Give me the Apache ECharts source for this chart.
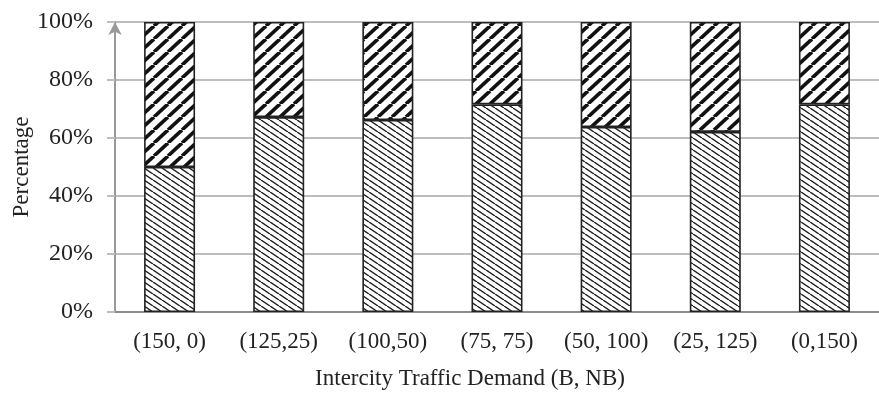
<!DOCTYPE html>
<html>
<head>
<meta charset="utf-8">
<script src="https://cdn.jsdelivr.net/npm/echarts@6/dist/echarts.min.js"></script>
<style>
  html, body { margin: 0; padding: 0; background: #fff; }
  #chart { width: 879px; height: 402px; }
</style>
</head>
<body>
<div id="chart"></div>
<script>
// Intercity traffic demand split (B, NB) and the share of each part, in percent
const categories = ['(150, 0)', '(125,25)', '(100,50)', '(75, 75)', '(50, 100)', '(25, 125)', '(0,150)'];
const lowerShare = [50, 67.2, 66.2, 71.6, 63.8, 62.1, 71.6];
const upperShare = [50, 32.8, 33.8, 28.4, 36.2, 37.9, 28.4];
const yTicks = [0, 20, 40, 60, 80, 100];

// Thick "/" stripes for the upper segment
function stripePattern() {
  const c = document.createElement('canvas');
  const w = 14, h = 13;
  c.width = w; c.height = h;
  const g = c.getContext('2d');
  g.fillStyle = '#fff';
  g.fillRect(0, 0, w, h);
  g.strokeStyle = '#111';
  g.lineWidth = 3.6;
  for (let k = -1; k <= 1; k++) {
    g.beginPath();
    g.moveTo(k * w, h);
    g.lineTo(k * w + w, 0);
    g.stroke();
  }
  return c;
}

// Fine dotted "\" hatching for the lower segment
function hatchPattern() {
  const c = document.createElement('canvas');
  const w = 9, h = 6;
  c.width = w; c.height = h;
  const g = c.getContext('2d');
  g.fillStyle = '#fff';
  g.fillRect(0, 0, w, h);
  g.strokeStyle = '#1a1a1a';
  g.lineWidth = 1.4;
  for (let k = -1; k <= 1; k++) {
    g.beginPath();
    g.moveTo(k * w, 0);
    g.lineTo(k * w + w, h);
    g.stroke();
  }
  return c;
}

const chart = echarts.init(document.getElementById('chart'), null, { renderer: 'canvas' });
const serif = '"Liberation Serif", "Times New Roman", serif';

chart.setOption({
  animation: false,
  backgroundColor: '#fff',
  grid: { left: 115, top: 22, width: 773, bottom: 90, containLabel: false },
  xAxis: {
    type: 'category',
    data: categories,
    axisLine: { show: true, lineStyle: { color: '#8c8c8c', width: 2 } },
    axisTick: { show: false },
    axisLabel: { interval: 0, hideOverlap: false, margin: 18, fontFamily: serif, fontSize: 23, color: '#222' }
  },
  yAxis: {
    type: 'value',
    min: 0, max: 100, interval: 20,
    axisLine: {
      show: true,
      symbol: ['none', 'arrow'],
      symbolSize: [10, 13],
      lineStyle: { color: '#999', width: 2 }
    },
    axisTick: { show: true, inside: false, length: 8, lineStyle: { color: '#bdbdbd', width: 2 } },
    splitLine: { show: true, lineStyle: { color: '#bdbdbd', width: 2 } },
    axisLabel: {
      margin: 22,
      fontFamily: serif, fontSize: 24, color: '#222',
      formatter: v => (yTicks.includes(v) ? v + '%' : '')
    }
  },
  series: [
    {
      type: 'bar', stack: 'share', barWidth: 51,
      data: lowerShare,
      itemStyle: { color: { image: hatchPattern(), repeat: 'repeat' }, borderColor: '#222', borderWidth: 1.6 }
    },
    {
      type: 'bar', stack: 'share', barWidth: 51,
      data: upperShare,
      itemStyle: { color: { image: stripePattern(), repeat: 'repeat' }, borderColor: '#222', borderWidth: 1.6 }
    }
  ],
  graphic: [
    {
      type: 'text',
      x: 22, y: 167, rotation: Math.PI / 2,
      style: {
        text: 'Percentage', fontFamily: serif, fontSize: 23, fill: '#222',
        textAlign: 'center', textVerticalAlign: 'middle'
      }
    },
    {
      type: 'text',
      x: 470, y: 379,
      style: {
        text: 'Intercity Traffic Demand (B, NB)', fontFamily: serif, fontSize: 23, fill: '#222',
        textAlign: 'center', textVerticalAlign: 'middle'
      }
    }
  ]
});
</script>
</body>
</html>
